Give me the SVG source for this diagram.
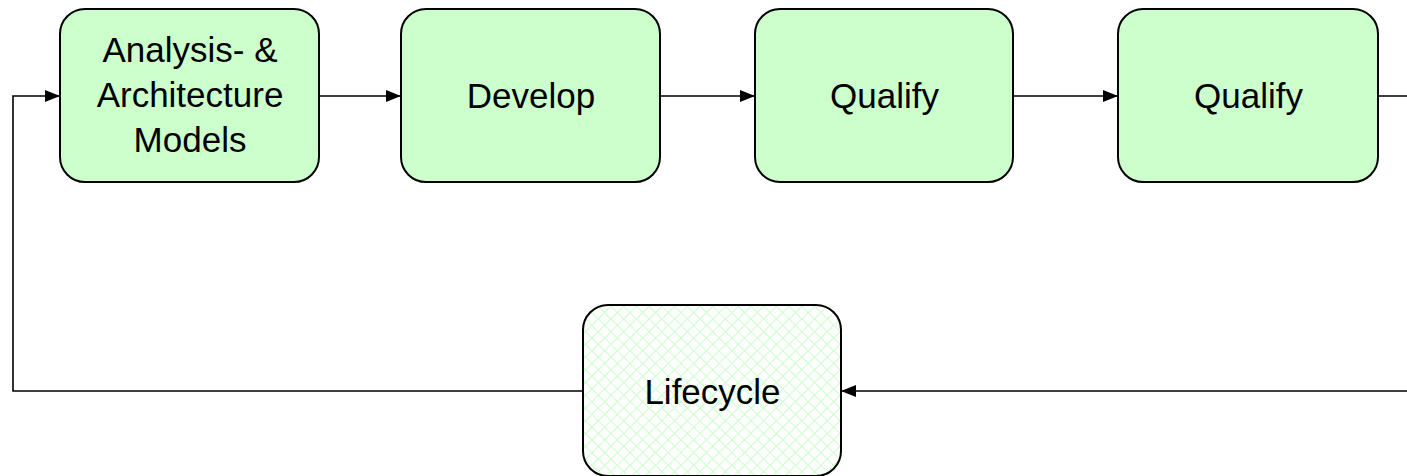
<svg xmlns="http://www.w3.org/2000/svg" width="1407" height="476" viewBox="0 0 1407 476">
  <defs>
    <style>
      .box { fill: #CCFFCC; stroke: #000; stroke-width: 2; }
      .hatched { fill: url(#crosshatch); stroke: #000; stroke-width: 2; }
      .label { font-family: "Liberation Sans", Arial, sans-serif; font-size: 35px; fill: #000; text-anchor: middle; }
      .wire { fill: none; stroke: #000; stroke-width: 1.6; }
    </style>
    <pattern id="crosshatch" width="9" height="9" patternUnits="userSpaceOnUse" patternTransform="rotate(45)">
      <rect width="9" height="9" fill="#FFFFFF"/>
      <path d="M0 0 H9 M0 0 V9" stroke="#CCFFCC" stroke-width="2.2"/>
    </pattern>
    <marker id="arrow" viewBox="0 0 15 12" refX="15" refY="6" markerWidth="15" markerHeight="12" markerUnits="userSpaceOnUse" orient="auto">
      <path d="M0 0 L15 6 L0 12 Z" fill="#000"/>
    </marker>
  </defs>

  <rect width="1407" height="476" fill="#FFFFFF"/>

  <!-- connectors -->
  <g id="connectors">
    <path class="wire" d="M583 391 H13 V96 H60" marker-end="url(#arrow)"/>
    <path class="wire" d="M319 96 H401" marker-end="url(#arrow)"/>
    <path class="wire" d="M660 96 H755" marker-end="url(#arrow)"/>
    <path class="wire" d="M1013 96 H1118" marker-end="url(#arrow)"/>
    <path class="wire" d="M1378 96 H1420 V391 H841" marker-end="url(#arrow)"/>
  </g>

  <!-- process steps -->
  <g id="analysis">
    <rect class="box" x="60" y="9" width="259" height="173" rx="25" ry="25"/>
    <text class="label" x="190" y="62">Analysis- &amp;</text>
    <text class="label" x="190" y="107">Architecture</text>
    <text class="label" x="190" y="152">Models</text>
  </g>
  <g id="develop">
    <rect class="box" x="401" y="9" width="259" height="173" rx="25" ry="25"/>
    <text class="label" x="531" y="108">Develop</text>
  </g>
  <g id="qualify1">
    <rect class="box" x="755" y="9" width="258" height="173" rx="25" ry="25"/>
    <text class="label" x="884.5" y="108">Qualify</text>
  </g>
  <g id="qualify2">
    <rect class="box" x="1118" y="9" width="260" height="173" rx="25" ry="25"/>
    <text class="label" x="1248.5" y="108">Qualify</text>
  </g>
  <g id="lifecycle">
    <rect class="hatched" x="583" y="305" width="258" height="171" rx="25" ry="25"/>
    <text class="label" x="712.5" y="404">Lifecycle</text>
  </g>
</svg>
